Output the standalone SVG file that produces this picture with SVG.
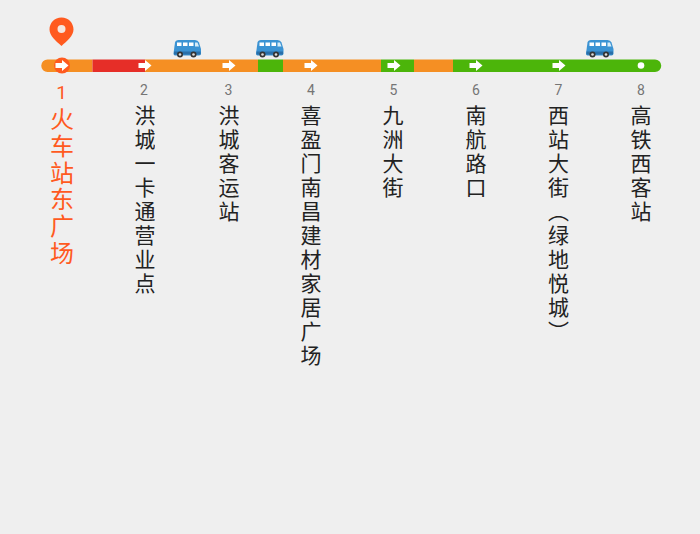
<svg xmlns="http://www.w3.org/2000/svg" width="700" height="534" viewBox="0 0 700 534">
<style>
.num{font-family:Roboto,"Liberation Sans",sans-serif;font-size:14px;fill:#757575;text-anchor:middle}
.name{font-family:"Noto Sans CJK SC",sans-serif;font-size:21px;fill:#222;writing-mode:vertical-rl;letter-spacing:3px}
.cur{fill:#ff5a1f}
.or{fill:#f58f23}.re{fill:#e62e28}.gr{fill:#4cb50a}
</style>
<defs>
<clipPath id="c2"><rect x="120" y="100" width="35" height="200"/></clipPath>
<path id="arrow" d="M-6.500-2.500H0V-5.500L6.500 0 0 5.500V2.500H-6.500Z" fill="#fff"/>
<g id="bus">
<path d="M0.500 13.500 2 2.500Q2.500 0 5.500 0H22Q25 0 26 2.500L28 9V13.500Q28 15.500 26 15.500H2Q0.500 15.500 0.500 13.500Z" fill="#3b93d3"/>
<rect x="4" y="2.500" width="4.500" height="3.500" fill="#fff"/>
<rect x="10" y="2.500" width="4.500" height="3.500" fill="#fff"/>
<rect x="16" y="2.500" width="4.500" height="3.500" fill="#fff"/>
<path d="M22 2.500H24.500L26 6.500H22Z" fill="#d6ecf8"/>
<rect x="1" y="11.500" width="26.500" height="3" fill="#2a6fa8"/>
<circle cx="7" cy="14.500" r="3" fill="#333"/><circle cx="7" cy="14.500" r="1.300" fill="#ddd"/>
<circle cx="20.500" cy="14.500" r="3" fill="#333"/><circle cx="20.500" cy="14.500" r="1.300" fill="#ddd"/>
</g>
</defs>
<rect width="700" height="534" fill="#efefef"/>
<g id="connectors">
<path class="or" d="M92.500 59.500H47.500a6.250 6.250 0 0 0 0 12.500H92.500Z"/>
<rect class="re" x="92.500" y="59.500" width="52.500" height="12.500"/>
<rect class="or" x="145" y="59.500" width="113" height="12.500"/>
<rect class="gr" x="258" y="59.500" width="25" height="12.500"/>
<rect class="or" x="283" y="59.500" width="98" height="12.500"/>
<rect class="gr" x="381" y="59.500" width="33" height="12.500"/>
<rect class="or" x="414" y="59.500" width="39" height="12.500"/>
<path class="gr" d="M453 59.500H655a6.250 6.250 0 0 1 0 12.500H453Z"/>
</g>
<g id="buses">
<use href="#bus" x="173" y="40"/>
<use href="#bus" x="255.500" y="40"/>
<use href="#bus" x="585.500" y="40"/>
</g>
<g id="station-1">
<path d="M61.500 17.500C54.500 17.500 49.500 23 49.500 29.500C49.500 36 56 41 61.500 46C67 41 73.500 36 73.500 29.500C73.500 23 68.500 17.500 61.500 17.500Z" fill="#ff5a1f"/>
<circle cx="61.500" cy="29" r="4" fill="#f5e6df"/>
<circle cx="62" cy="65.500" r="8" fill="#ff5a1f"/>
<use href="#arrow" x="62" y="65.500"/>
<text class="num cur" x="61.500" y="99" style="font-size:19px">1</text>
<text class="name cur" x="62" y="107" style="font-size:24px;letter-spacing:2.700px">火车站东广场</text>
</g>
<g id="station-2">
<use href="#arrow" x="145" y="65.500"/>
<text class="num" x="144" y="95">2</text>
<g clip-path="url(#c2)"><text class="name" x="145" y="105">洪城一卡通营业点</text></g>
</g>
<g id="station-3">
<use href="#arrow" x="229" y="65.500"/>
<text class="num" x="228.500" y="95">3</text>
<text class="name" x="229" y="105">洪城客运站</text>
</g>
<g id="station-4">
<use href="#arrow" x="311" y="65.500"/>
<text class="num" x="311" y="95">4</text>
<text class="name" x="311" y="105">喜盈门南昌建材家居广场</text>
</g>
<g id="station-5">
<use href="#arrow" x="394" y="65.500"/>
<text class="num" x="393.500" y="95">5</text>
<text class="name" x="393" y="105">九洲大街</text>
</g>
<g id="station-6">
<use href="#arrow" x="476" y="65.500"/>
<text class="num" x="476" y="95">6</text>
<text class="name" x="476" y="105">南航路口</text>
</g>
<g id="station-7">
<use href="#arrow" x="559" y="65.500"/>
<text class="num" x="558.500" y="95">7</text>
<text class="name" x="558.500" y="105">西站大街（绿地悦城）</text>
</g>
<g id="station-8">
<circle cx="641" cy="65.500" r="3.300" fill="#fff"/>
<text class="num" x="641" y="95">8</text>
<text class="name" x="641" y="105">高铁西客站</text>
</g>
</svg>
